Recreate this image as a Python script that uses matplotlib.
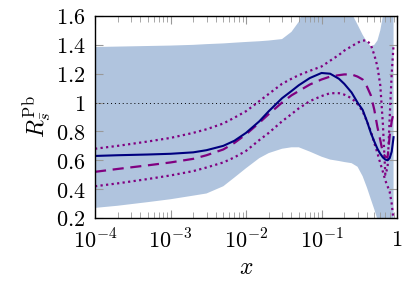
import matplotlib
matplotlib.use("Agg")
import matplotlib.pyplot as plt
import matplotlib.ticker as mticker

plt.rcParams['mathtext.fontset'] = 'cm'
plt.rcParams['font.family'] = 'serif'
plt.rcParams['font.serif'] = ['DejaVu Serif']

# x grid shared by all curves
x = [1e-4, 2e-4, 5e-4, 1e-3, 2e-3, 3e-3, 5e-3, 7e-3, 1e-2, 1.5e-2, 2e-2,
     3e-2, 4e-2, 5e-2, 7e-2, 0.1, 0.13, 0.17, 0.2, 0.25, 0.3, 0.35, 0.4,
     0.45, 0.5, 0.55, 0.6, 0.65, 0.7, 0.75, 0.8, 0.85, 0.9]

central = [0.63, 0.635, 0.64, 0.645, 0.655, 0.67, 0.70, 0.735, 0.79, 0.87, 0.94,
           1.03, 1.08, 1.12, 1.17, 1.205, 1.20, 1.165, 1.13, 1.07, 1.00, 0.95, 0.87,
           0.79, 0.73, 0.68, 0.645, 0.62, 0.605, 0.60, 0.615, 0.66, 0.76]
dashed = [0.52, 0.54, 0.565, 0.585, 0.61, 0.635, 0.675, 0.72, 0.78, 0.86, 0.92,
          1.00, 1.05, 1.08, 1.125, 1.16, 1.18, 1.19, 1.195, 1.195, 1.18, 1.16, 1.11,
          1.05, 0.95, 0.83, 0.74, 0.65, 0.625, 0.62, 0.77, 0.87, 0.93]
dot_hi = [0.68, 0.70, 0.73, 0.755, 0.79, 0.815, 0.855, 0.895, 0.94, 1.01, 1.06,
          1.13, 1.165, 1.19, 1.22, 1.25, 1.29, 1.33, 1.36, 1.39, 1.415, 1.43, 1.43,
          1.40, 1.33, 1.25, 1.12, 0.85, 0.50, 0.55, 0.90, 1.20, 1.40]
dot_lo = [0.42, 0.44, 0.47, 0.495, 0.525, 0.55, 0.585, 0.62, 0.665, 0.74, 0.79,
          0.87, 0.92, 0.96, 1.01, 1.045, 1.065, 1.065, 1.055, 1.03, 0.99, 0.94, 0.87,
          0.80, 0.72, 0.65, 0.58, 0.52, 0.46, 0.42, 0.38, 0.30, 0.18]
band_hi = [1.385, 1.388, 1.392, 1.395, 1.40, 1.405, 1.41, 1.415, 1.42, 1.425, 1.43,
           1.44, 1.49, 1.56, 1.75, 1.85, 1.85, 1.80, 1.75, 1.62, 1.54, 1.47, 1.42,
           1.39, 1.40, 1.43, 1.50, 1.60, 1.75, 1.85, 1.90, 1.95, 2.0]
band_lo = [0.27, 0.285, 0.31, 0.33, 0.355, 0.37, 0.42, 0.48, 0.545, 0.615, 0.65,
           0.68, 0.69, 0.69, 0.66, 0.625, 0.605, 0.595, 0.588, 0.58, 0.555, 0.49, 0.41,
           0.33, 0.26, 0.19, 0.12, 0.0, 0.0, 0.0, 0.0, 0.0, 0.0]

xticks = [1e-4, 1e-3, 1e-2, 1e-1, 1]
xticklabels = [r'$10^{-4}$', r'$10^{-3}$', r'$10^{-2}$', r'$10^{-1}$', r'$1$']
yticks = [0.2, 0.4, 0.6, 0.8, 1.0, 1.2, 1.4, 1.6]
yticklabels = [r'$0.2$', r'$0.4$', r'$0.6$', r'$0.8$', r'$1$', r'$1.2$', r'$1.4$', r'$1.6$']

fig = plt.figure(figsize=(4.14, 2.85), dpi=100)
ax = fig.add_axes([0.2295, 0.2351, 0.7295, 0.7088])

ax.fill_between(x, band_lo, band_hi, color='#b0c4de', lw=0)
ax.axhline(1.0, color='black', ls=(0, (1, 3)), lw=0.7)
ax.plot(x, dot_hi, color='purple', ls=(0, (1, 1.5)), lw=1.6)
ax.plot(x, dot_lo, color='purple', ls=(0, (1, 1.5)), lw=1.6)
ax.plot(x, dashed, color='purple', ls=(0, (5, 3)), lw=1.6)
ax.plot(x, central, color='#00007f', lw=1.5)

ax.set_xscale('log')
ax.set_xlim(1e-4, 1)
ax.set_ylim(0.2, 1.6)
ax.set_xticks(xticks)
ax.set_xticklabels(xticklabels)
ax.xaxis.set_minor_locator(mticker.LogLocator(base=10, subs=range(2, 10), numticks=20))
ax.xaxis.set_minor_formatter(mticker.NullFormatter())
ax.set_yticks(yticks)
ax.set_yticklabels(yticklabels)

ax.tick_params(which='both', direction='in', top=True, right=True, color='#999999', labelsize=16)
ax.tick_params(which='major', length=6, width=0.8)
ax.tick_params(which='minor', length=4, width=0.6)
ax.tick_params(axis='x', pad=8)
ax.tick_params(axis='y', pad=7)
for s in ax.spines.values():
    s.set_linewidth(1.0)

ax.set_xlabel(r'$x$', fontsize=17, labelpad=2)
ax.set_ylabel(r'$R^{\mathrm{Pb}}_{\bar{s}}$', fontsize=17, labelpad=1)

fig.savefig('out.png', dpi=100)
